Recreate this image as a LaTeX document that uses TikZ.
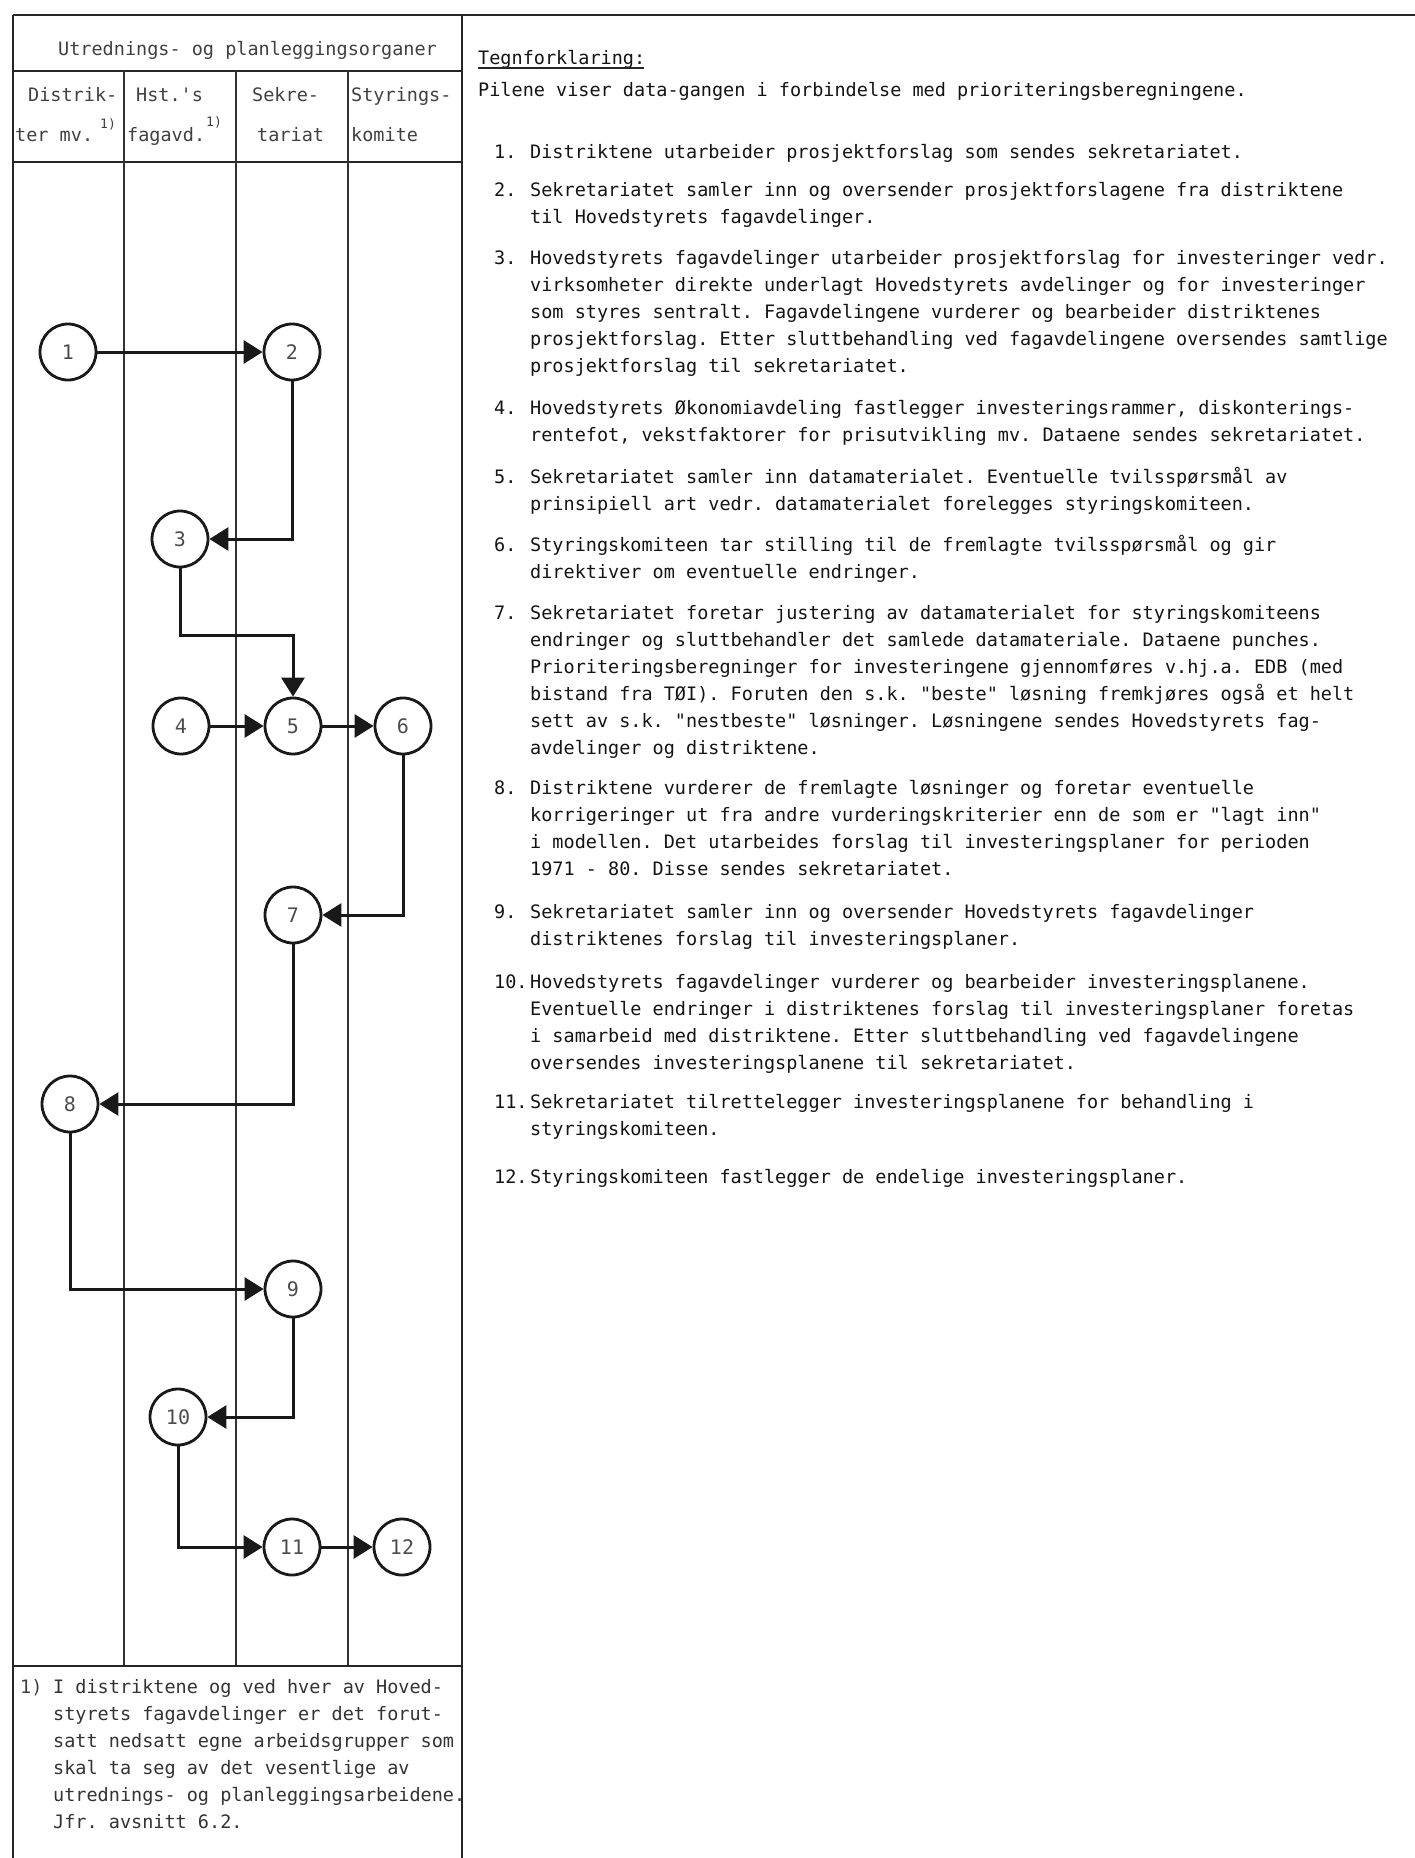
\documentclass[tikz,border=0pt]{standalone}
\usepackage{fontspec}
\newfontfamily\tw{DejaVu Sans Mono}
\usetikzlibrary{arrows.meta}
\frenchspacing
\begin{document}
\frenchspacing
\begin{tikzpicture}[x=1pt,y=-1pt,
  tbl/.style={line width=2.2pt, black!85},
  coldiv/.style={line width=1.5pt, black!80},
  uline/.style={line width=1.6pt, black!85},
  circ/.style={circle, draw=black!90, line width=2.8pt, minimum size=56pt, inner sep=0pt,
    font=\tw\fontsize{20}{22}\selectfont, text=black!70},
  conn/.style={line width=3pt, black!90, -{Triangle[length=19pt,width=23pt]}},
  rtxt/.style={anchor=north west, inner sep=0pt, align=left,
    font=\tw\fontsize{18.5}{27}\selectfont\frenchspacing, text=black!92},
  ltxt/.style={anchor=base west, inner sep=0pt, font=\tw\fontsize{18.5}{22}\selectfont, text=black!75},
  lsup/.style={anchor=base west, inner sep=0pt, font=\tw\fontsize{13}{15}\selectfont, text=black!75},
]
\useasboundingbox (0,0) rectangle (1415,1858);

% ---- table frame ----
\draw[tbl] (13,15) -- (1415,15);
\draw[tbl] (13,15) -- (13,1858);
\draw[tbl] (462,15) -- (462,1858);
\draw[tbl] (13,71) -- (462,71);
\draw[tbl] (13,162) -- (462,162);
\draw[coldiv] (124,71) -- (124,1666);
\draw[coldiv] (236,71) -- (236,1666);
\draw[coldiv] (348,71) -- (348,1666);
\draw[tbl] (13,1666) -- (462,1666);

% ---- table headers ----
\node[ltxt] (hdr) at (58,55) {Utrednings- og planleggingsorganer};
\node[ltxt] (h1a) at (28,101) {Distrik-};
\node[ltxt] (h1b) at (15,141) {ter mv.};
\node[lsup] (h1s) at (100,128) {1)};
\node[ltxt] (h2a) at (136,101) {Hst.\textquotesingle s};
\node[ltxt] (h2b) at (127,141) {fagavd.};
\node[lsup] (h2s) at (206,126) {1)};
\node[ltxt] (h3a) at (252,101) {Sekre-};
\node[ltxt] (h3b) at (257,141) {tariat};
\node[ltxt] (h4a) at (351,101) {Styrings-};
\node[ltxt] (h4b) at (351,141) {komite};

% ---- circles ----
\node[circ] (c1) at (68,352) {1};
\node[circ] (c2) at (292,352) {2};
\node[circ] (c3) at (180,539) {3};
\node[circ] (c4) at (181,726) {4};
\node[circ] (c5) at (293,726) {5};
\node[circ] (c6) at (403,726) {6};
\node[circ] (c7) at (293,915) {7};
\node[circ] (c8) at (70,1104) {8};
\node[circ] (c9) at (293,1289) {9};
\node[circ] (c10) at (178,1417) {10};
\node[circ] (c11) at (292,1547) {11};
\node[circ] (c12) at (402,1547) {12};

\coordinate (k35) at (180,635);

% ---- connectors ----
\draw[conn] (c1) -- (c2);
\draw[conn] (c2) |- (c3);
\draw[conn] (c3.south) -- (k35) -| (c5);
\draw[conn] (c4) -- (c5);
\draw[conn] (c5) -- (c6);
\draw[conn] (c6) |- (c7);
\draw[conn] (c7) |- (c8);
\draw[conn] (c8) |- (c9);
\draw[conn] (c9) |- (c10);
\draw[conn] (c10) |- (c11);
\draw[conn] (c11) -- (c12);

% ---- footnote ----
\node[ltxt, font=\tw\fontsize{18.5}{27}\selectfont] (fn) at (20,1693) {1)};
\node[rtxt, text=black!80] (fnt) at (53,1674.2) {\strut I distriktene og ved hver av Hoved-\\
styrets fagavdelinger er det forut-\\
satt nedsatt egne arbeidsgrupper som\\
skal ta seg av det vesentlige av\\
utrednings- og planleggingsarbeidene.\\
Jfr. avsnitt 6.2.};

% ---- legend ----
\node[rtxt] (teg) at (478,45.2) {\strut Tegnforklaring:};
\draw[uline] (teg.north west) ++(0,23) -- ++(166,0);
\node[rtxt] (pil) at (478,77.2) {\strut Pilene viser data-gangen i forbindelse med prioriteringsberegningene.};

\node[rtxt] (n1) at (494,139.2) {\strut 1.};
\node[rtxt] (t1) at (530,139.2) {\strut Distriktene utarbeider prosjektforslag som sendes sekretariatet.};

\node[rtxt] (n2) at (494,177.2) {\strut 2.};
\node[rtxt] (t2) at (530,177.2) {\strut Sekretariatet samler inn og oversender prosjektforslagene fra distriktene\\
til Hovedstyrets fagavdelinger.};

\node[rtxt] (n3) at (494,245.2) {\strut 3.};
\node[rtxt] (t3) at (530,245.2) {\strut Hovedstyrets fagavdelinger utarbeider prosjektforslag for investeringer vedr.\\
virksomheter direkte underlagt Hovedstyrets avdelinger og for investeringer\\
som styres sentralt. Fagavdelingene vurderer og bearbeider distriktenes\\
prosjektforslag. Etter sluttbehandling ved fagavdelingene oversendes samtlige\\
prosjektforslag til sekretariatet.};

\node[rtxt] (n4) at (494,395.2) {\strut 4.};
\node[rtxt] (t4) at (530,395.2) {\strut Hovedstyrets Økonomiavdeling fastlegger investeringsrammer, diskonterings-\\
rentefot, vekstfaktorer for prisutvikling mv. Dataene sendes sekretariatet.};

\node[rtxt] (n5) at (494,464.2) {\strut 5.};
\node[rtxt] (t5) at (530,464.2) {\strut Sekretariatet samler inn datamaterialet. Eventuelle tvilsspørsmål av\\
prinsipiell art vedr. datamaterialet forelegges styringskomiteen.};

\node[rtxt] (n6) at (494,532.2) {\strut 6.};
\node[rtxt] (t6) at (530,532.2) {\strut Styringskomiteen tar stilling til de fremlagte tvilsspørsmål og gir\\
direktiver om eventuelle endringer.};

\node[rtxt] (n7) at (494,600.2) {\strut 7.};
\node[rtxt] (t7) at (530,600.2) {\strut Sekretariatet foretar justering av datamaterialet for styringskomiteens\\
endringer og sluttbehandler det samlede datamateriale. Dataene punches.\\
Prioriteringsberegninger for investeringene gjennomføres v.hj.a. EDB (med\\
bistand fra TØI). Foruten den s.k. "beste" løsning fremkjøres også et helt\\
sett av s.k. "nestbeste" løsninger. Løsningene sendes Hovedstyrets fag-\\
avdelinger og distriktene.};

\node[rtxt] (n8) at (494,775.2) {\strut 8.};
\node[rtxt] (t8) at (530,775.2) {\strut Distriktene vurderer de fremlagte løsninger og foretar eventuelle\\
korrigeringer ut fra andre vurderingskriterier enn de som er "lagt inn"\\
i modellen. Det utarbeides forslag til investeringsplaner for perioden\\
1971 - 80. Disse sendes sekretariatet.};

\node[rtxt] (n9) at (494,899.2) {\strut 9.};
\node[rtxt] (t9) at (530,899.2) {\strut Sekretariatet samler inn og oversender Hovedstyrets fagavdelinger\\
distriktenes forslag til investeringsplaner.};

\node[rtxt] (n10) at (494,969.2) {\strut 10.};
\node[rtxt] (t10) at (530,969.2) {\strut Hovedstyrets fagavdelinger vurderer og bearbeider investeringsplanene.\\
Eventuelle endringer i distriktenes forslag til investeringsplaner foretas\\
i samarbeid med distriktene. Etter sluttbehandling ved fagavdelingene\\
oversendes investeringsplanene til sekretariatet.};

\node[rtxt] (n11) at (494,1089.2) {\strut 11.};
\node[rtxt] (t11) at (530,1089.2) {\strut Sekretariatet tilrettelegger investeringsplanene for behandling i\\
styringskomiteen.};

\node[rtxt] (n12) at (494,1164.2) {\strut 12.};
\node[rtxt] (t12) at (530,1164.2) {\strut Styringskomiteen fastlegger de endelige investeringsplaner.};
\end{tikzpicture}
\end{document}
